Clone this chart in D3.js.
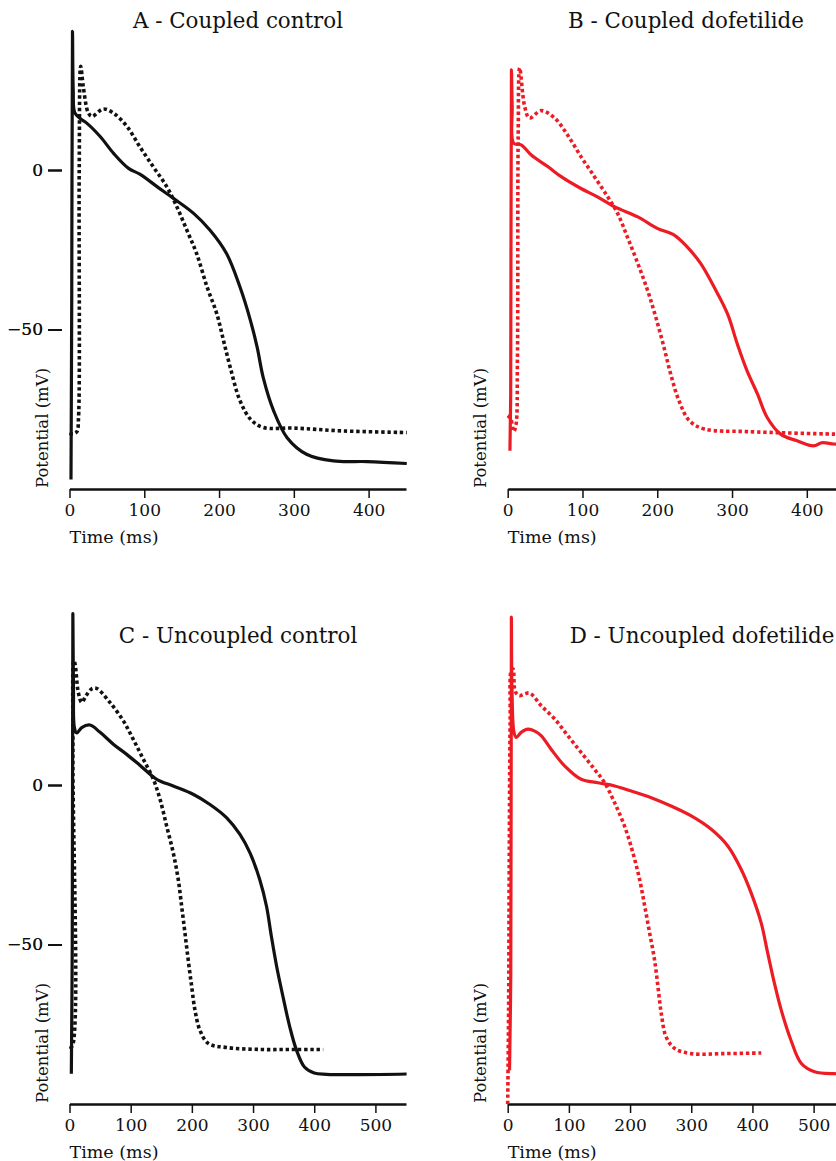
<!DOCTYPE html>
<html>
<meta charset="utf-8">
<style>
body { margin: 0; background: #fff; }
text { font-family: "DejaVu Serif", serif; fill: #111; }
</style>
<body>
</body>
<script src="https://cdnjs.cloudflare.com/ajax/libs/d3/7.8.5/d3.min.js"></script>
<script>

// traces: [time (ms), potential (mV)]
var aSolid = [[2,-97],[3,-40],[4,43.5],[5,25],[7,18],[15,16],[23,14.7],[41,10.5],[59,5.2],[79,0.5],[94,-1.3],[117,-5.2],[139,-8.9],[166,-13.6],[188,-18.9],[210,-26.2],[228,-36.7],[242,-47.2],[251,-55.6],[259,-65],[273,-75.5],[291,-83.9],[317,-89.1],[353,-91.2],[398,-91.4],[451,-92]];
var aDotted = [[0,-82.5],[5,-82.7],[10,-82],[12,-78],[13,0],[15,32.5],[18.5,26],[25,18],[30,16.8],[45,19.1],[59,17.8],[77,13.6],[94,7.3],[112,1],[130,-5.2],[143.5,-11.5],[157,-18.9],[170,-26.2],[184,-36.7],[197,-45.1],[206,-53.5],[215,-61.9],[228,-72.3],[242,-78.1],[259,-80.7],[300,-80.9],[366,-81.8],[451,-82.3]];

var bSolid = [[3,-88],[4,-70],[5,31.4],[6,20],[8,8.4],[18,7.9],[31.5,4.7],[54,1],[71.5,-2.1],[98,-5.8],[120,-8.4],[142.7,-11.5],[174,-14.7],[200,-18.3],[222.7,-20.4],[240,-24.1],[258,-29.3],[276,-36.7],[294,-45.1],[307,-54.5],[320,-62.9],[334,-70.2],[347,-77.6],[365,-82.8],[387,-84.9],[409,-86.5],[420,-85.5],[436,-85.9],[450,-86]];
var bDotted = [[0,-77],[4,-78],[8,-82],[11,-80],[13,-60],[14,10],[16,32],[22.7,19.9],[29,16.3],[45,18.6],[62.7,16.3],[80,11],[98,4.2],[116,-2.1],[133.7,-8.4],[147,-13.6],[160,-21],[174,-29.3],[187,-37.7],[198,-46.1],[209,-55.6],[218,-64],[229,-72.3],[243,-78.6],[263,-81.2],[320,-82],[436,-82.8],[450,-82.9]];

var cSolid = [[3,-90.5],[4.5,-50],[5.5,53.7],[6.5,30],[8,18],[12,16.3],[20,18],[33.5,18.8],[50,16.5],[71.6,12.8],[93.5,9.6],[115,6.2],[142.5,1.8],[169.6,-0.3],[202,-2.9],[229.6,-6.1],[257,-10.3],[278.6,-15.5],[295,-21.3],[311,-29.7],[322,-38],[330,-47.5],[338.6,-56.9],[349,-66.4],[360,-75.8],[371,-83.1],[384,-88.4],[400,-90.3],[420,-90.7],[474.7,-90.8],[551,-90.6]];
var cDotted = [[0,-82],[4,-82],[5.5,10],[7,39],[9,38],[14.4,29],[20,25.9],[27,28],[36,30.1],[44,30.3],[66,25.9],[88,20.1],[104,14.4],[120.6,8.1],[137,1.8],[148,-4.5],[158.8,-12.9],[169.6,-21.3],[177.8,-29.7],[183.3,-38],[188.7,-46.4],[194,-54.8],[199.7,-63.2],[205,-70.5],[213,-76.8],[226.8,-81],[257,-82.3],[311,-82.9],[365.7,-82.9],[414.7,-82.9]];

var dSolid = [[3,-89.4],[5,-60],[6,52.6],[7,30],[10.3,16.5],[14,14.9],[22,16.5],[33,17.5],[45,16.8],[55,15.4],[71,11.2],[93,6],[120,1.8],[147.5,0.7],[175,-0.3],[202,-1.9],[234.6,-4],[267,-6.6],[300,-9.7],[332.7,-13.9],[360,-19.2],[381.7,-26.5],[398,-33.9],[414.4,-43.3],[425,-52.7],[436,-62.2],[447,-70.5],[463,-80],[480,-87.3],[501.6,-89.9],[534,-90.5],[550,-90.5]];
var dDotted = [[0,-100],[1.5,-70],[2.5,-25],[4,20],[6,36],[8.7,36.4],[11.4,30],[15,28.5],[19.6,28],[27,28.5],[36,28.8],[55,24.8],[76.8,20.7],[98.5,15.4],[120,10.2],[142,4.9],[158.5,0.7],[174.8,-5.6],[191,-12.9],[204.7,-21.3],[215.7,-29.7],[224,-38],[232,-46.4],[240,-54.8],[245.6,-63.2],[251,-71.6],[259,-79],[273,-82.6],[300,-84.2],[354.6,-84.2],[414.4,-84]];

var titles = ["A - Coupled control", "B - Coupled dofetilide", "C - Uncoupled control", "D - Uncoupled dofetilide"];
var colors = ["#111111", "#ed1c24", "#111111", "#ed1c24"];
var xMax = [450, 450, 550, 550];
var xTicks = [[0,100,200,300,400], [0,100,200,300,400], [0,100,200,300,400,500], [0,100,200,300,400,500]];
var yTicks = [0, -50];

var traces = [[aSolid, aDotted], [bSolid, bDotted], [cSolid, cDotted], [dSolid, dDotted]];

var width = 836, height = 1161;
var svg = d3.select("body").append("svg")
    .attr("width", width)
    .attr("height", height);

// panel placement
var left = [69.5, 507.7, 69.5, 507.7];
var bottom = [489, 489, 1104, 1104];
var titleX = [238, 686, 238, 702];
var plotW = 336.5, pxPerMv = 3.19;

titles.forEach(function (title, i) {
  var x = d3.scaleLinear().domain([0, xMax[i]]).range([left[i], left[i] + plotW]);
  var y = d3.scaleLinear().domain([-100, 0]).range([bottom[i], bottom[i] - 100 * pxPerMv]);
  var g = svg.append("g").attr("class", "panel");

  // x axis
  var xa = g.append("g")
      .attr("transform", "translate(0," + bottom[i] + ")")
      .call(d3.axisBottom(x).tickValues(xTicks[i]).tickSize(9).tickPadding(6).tickSizeOuter(0));
  xa.attr("font-family", null).attr("font-size", null);
  xa.select(".domain").attr("stroke", "#111").attr("stroke-width", 2.6);
  xa.selectAll(".tick line").attr("stroke", "#111").attr("stroke-width", 1.5);
  xa.selectAll(".tick text").style("font-size", "17px").attr("fill", "#111");

  // y ticks only, no spine
  var ya = g.append("g").attr("transform", "translate(62,0)")
      .call(d3.axisLeft(y).tickValues(yTicks).tickSize(14).tickPadding(5)
        .tickFormat(function (d) { return d3.format("")(d).replace("-", "\u2212"); }));
  ya.attr("font-family", null).attr("font-size", null);
  ya.select(".domain").remove();
  ya.selectAll(".tick line").attr("stroke", "#111").attr("stroke-width", 2);
  ya.selectAll(".tick text").style("font-size", "17px").attr("fill", "#111");

  g.append("text")
      .attr("x", left[i])
      .attr("y", bottom[i] + 54)
      .style("font-size", "17.5px")
      .text("Time (ms)");

  g.append("text")
      .attr("transform", "translate(" + (left[i] - 22) + "," + (bottom[i] - 1) + ")rotate(-90)")
      .style("font-size", "16.5px")
      .text("Potential (mV)");

  g.append("text")
      .attr("x", titleX[i])
      .attr("y", y(0) - 142)
      .attr("text-anchor", "middle")
      .style("font-size", "21.4px")
      .text(title);

  var line = d3.line()
      .x(function (d) { return x(d[0]); })
      .y(function (d) { return y(d[1]); })
      .curve(d3.curveCatmullRom.alpha(0.5));

  g.append("path")
      .datum(traces[i][1])
      .attr("fill", "none")
      .attr("stroke", colors[i])
      .attr("stroke-width", 3.6)
      .attr("stroke-dasharray", "3.4,2.8")
      .attr("d", line);

  g.append("path")
      .datum(traces[i][0])
      .attr("fill", "none")
      .attr("stroke", colors[i])
      .attr("stroke-width", 3.2)
      .attr("stroke-linejoin", "round")
      .attr("d", line);
});
</script>
</html>
